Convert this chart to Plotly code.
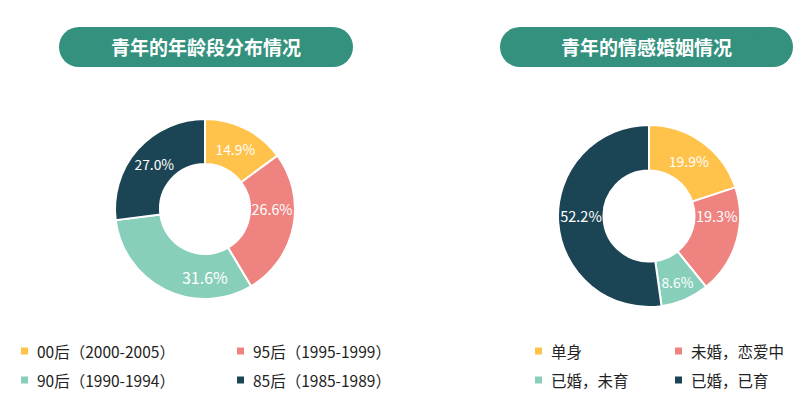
import plotly.graph_objects as go

W, H = 811, 411

# ---- data ----
age_labels = ["00后（2000-2005）", "95后（1995-1999）", "90后（1990-1994）", "85后（1985-1989）"]
age_values = [14.9, 26.6, 31.6, 27.0]
marriage_labels = ["单身", "未婚，恋爱中", "已婚，未育", "已婚，已育"]
marriage_values = [19.9, 19.3, 8.6, 52.2]
titles = ["青年的年龄段分布情况", "青年的情感婚姻情况"]
colors = ["#FFC24B", "#EE8380", "#88CFBB", "#1B4555"]

FONT = "Noto Sans CJK SC, Microsoft YaHei, sans-serif"
PILL = "#33917E"


def px(x):
    return x / W


def py(y):
    return 1 - y / H


fig = go.Figure()


def add_pie(labels, values, cx, cy, r):
    fig.add_trace(go.Pie(
        labels=labels, values=values,
        text=[f"{v:.1f}%" for v in values],
        textinfo="text", textposition="inside",
        insidetextorientation="horizontal",
        textfont=dict(color="white", size=16, family=FONT),
        hole=0.5, sort=False, direction="clockwise", rotation=0,
        marker=dict(colors=colors, line=dict(color="white", width=2)),
        domain=dict(x=[px(cx - r), px(cx + r)], y=[py(cy + r), py(cy - r)]),
        showlegend=False, hoverinfo="label+percent",
    ))


add_pie(age_labels, age_values, 205, 209, 90)
add_pie(marriage_labels, marriage_values, 649, 216, 91)

shapes = []
annotations = []


def pill(x0, x1, y0, y1, text):
    rr = (y1 - y0) / 2
    shapes.append(dict(type="rect", xref="paper", yref="paper",
                       x0=px(x0 + rr), x1=px(x1 - rr), y0=py(y1), y1=py(y0),
                       fillcolor=PILL, line=dict(width=0), layer="below"))
    for cxp in (x0 + rr, x1 - rr):
        shapes.append(dict(type="circle", xref="paper", yref="paper",
                           x0=px(cxp - rr), x1=px(cxp + rr), y0=py(y1), y1=py(y0),
                           fillcolor=PILL, line=dict(width=0), layer="below"))
    annotations.append(dict(text=f"<b>{text}</b>", xref="paper", yref="paper",
                            x=px((x0 + x1) / 2), y=py((y0 + y1) / 2),
                            xanchor="center", yanchor="middle", showarrow=False,
                            font=dict(color="white", size=19, family=FONT)))


pill(59, 353, 27, 67, titles[0])
pill(500, 793, 27, 67, titles[1])


def legend(labels, sq_x, txt_x, rows_y):
    for i, lab in enumerate(labels):
        col, row = i % 2, i // 2
        yc = rows_y[row]
        shapes.append(dict(type="rect", xref="paper", yref="paper",
                           x0=px(sq_x[col]), x1=px(sq_x[col] + 7),
                           y0=py(yc + 3.5), y1=py(yc - 3.5),
                           fillcolor=colors[i], line=dict(width=0)))
        annotations.append(dict(text=lab, xref="paper", yref="paper",
                                x=px(txt_x[col]), y=py(yc),
                                xanchor="left", yanchor="middle", showarrow=False,
                                font=dict(color="#222222", size=15.5, family=FONT)))


legend(age_labels, [21, 237], [35, 251], [351, 380])
legend(marriage_labels, [535, 675], [549, 689], [351, 380])

fig.update_layout(
    width=W, height=H,
    margin=dict(l=0, r=0, t=0, b=0),
    paper_bgcolor="white", plot_bgcolor="white",
    shapes=shapes, annotations=annotations,
    font=dict(family=FONT),
)

fig.write_html("out.html", config={"displayModeBar": False},
               post_script="document.body.style.margin='0';")
